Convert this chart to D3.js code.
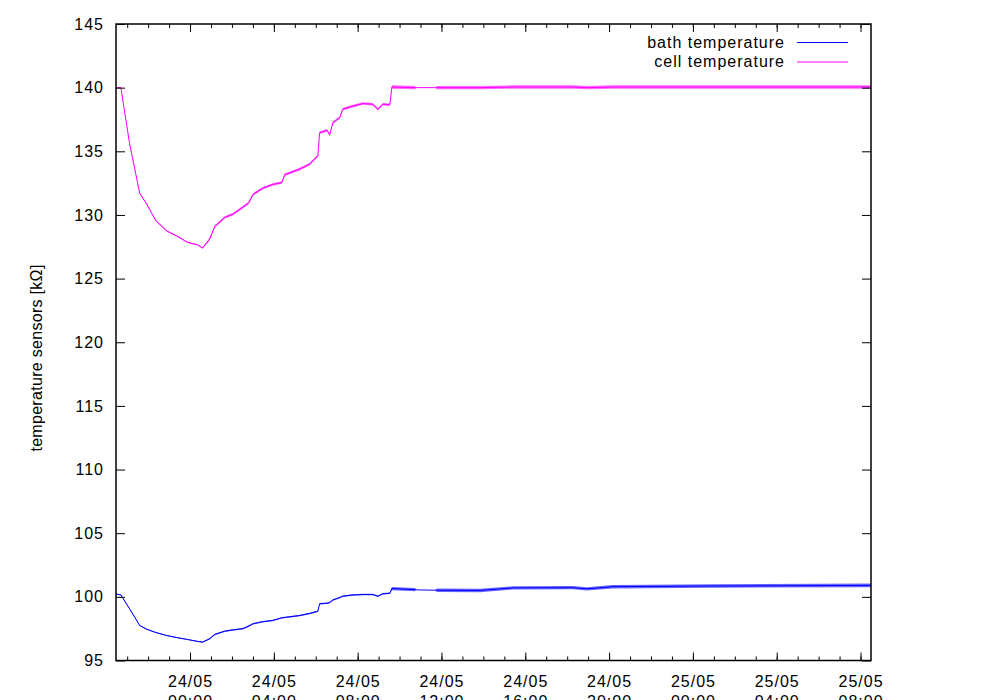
<!DOCTYPE html>
<html>
<head>
<meta charset="utf-8">
<script src="https://cdn.jsdelivr.net/npm/d3@7"></script>
<style>
  body { margin: 0; background: #fff; }
  svg { display: block; }
  text { font-family: "Liberation Sans", Arial, sans-serif; fill: #000; }
</style>
</head>
<body>
<svg></svg>
<script>
const width = 1000;
const height = 700;

// sample times (dd/mm HH:MM)
const times = [
  "23/05 20:28", "23/05 20:42", "23/05 21:07", "23/05 21:36", "23/05 21:56",
  "23/05 22:22", "23/05 22:53", "23/05 23:22", "23/05 23:53", "24/05 00:22",
  "24/05 00:36", "24/05 00:56", "24/05 01:11", "24/05 01:39", "24/05 02:02",
  "24/05 02:31", "24/05 02:48", "24/05 03:00", "24/05 03:28", "24/05 03:57",
  "24/05 04:23", "24/05 04:31", "24/05 05:14", "24/05 05:43", "24/05 06:06",
  "24/05 06:11", "24/05 06:32", "24/05 06:40", "24/05 06:49", "24/05 07:09",
  "24/05 07:17", "24/05 07:46", "24/05 08:15", "24/05 08:43", "24/05 08:58",
  "24/05 09:12", "24/05 09:32", "24/05 09:38", "24/05 10:44", "24/05 10:49",
  "24/05 11:41", "24/05 11:47", "24/05 13:50", "24/05 15:24", "24/05 18:16",
  "24/05 18:56", "24/05 20:11", "25/05 00:57", "25/05 08:30"
];

const bathValues = [
  100.22, 100.15, 99.06, 97.75, 97.45,
  97.2, 96.96, 96.8, 96.65, 96.5,
  96.44, 96.7, 97.05, 97.3, 97.4,
  97.5, 97.7, 97.88, 98.05, 98.15,
  98.35, 98.38, 98.53, 98.7, 98.87,
  99.45, 99.5, 99.55, 99.75, 99.95,
  100.05, 100.15, 100.18, 100.18, 100.05,
  100.24, 100.28, 100.65, 100.57, 100.55,
  100.52, 100.52, 100.5, 100.7, 100.72,
  100.63, 100.8, 100.85, 100.9
];

const cellValues = [
  140.0, 140.0, 135.6, 131.7, 130.85,
  129.55, 128.75, 128.35, 127.85, 127.65,
  127.4, 128.1, 129.1, 129.8, 130.05,
  130.6, 130.95, 131.6, 132.1, 132.4,
  132.55, 133.15, 133.6, 134.0, 134.65,
  136.45, 136.65, 136.3, 137.25, 137.65,
  138.3, 138.55, 138.75, 138.7, 138.3,
  138.7, 138.65, 140.05, 140.0, 140.0,
  140.0, 140.0, 140.0, 140.05, 140.05,
  140.0, 140.05, 140.05, 140.05
];

// half width of the scatter band seen around each trace
const bathNoise = [
  0.04, 0.04, 0.04, 0.04, 0.04,
  0.04, 0.04, 0.04, 0.04, 0.04,
  0.05, 0.06, 0.06, 0.06, 0.06,
  0.06, 0.06, 0.06, 0.06, 0.06,
  0.06, 0.06, 0.06, 0.06, 0.06,
  0.06, 0.06, 0.06, 0.06, 0.06,
  0.06, 0.06, 0.06, 0.06, 0.06,
  0.06, 0.06, 0.13, 0.13, 0,
  0, 0.13, 0.13, 0.13, 0.13,
  0.13, 0.14, 0.14, 0.14
];

const cellNoise = [
  0.05, 0.05, 0.05, 0.05, 0.05,
  0.05, 0.05, 0.05, 0.05, 0.05,
  0.06, 0.1, 0.1, 0.1, 0.1,
  0.1, 0.1, 0.1, 0.1, 0.1,
  0.1, 0.1, 0.1, 0.1, 0.1,
  0.1, 0.1, 0.1, 0.1, 0.1,
  0.1, 0.1, 0.1, 0.1, 0.1,
  0.1, 0.1, 0.13, 0.13, 0,
  0, 0.13, 0.13, 0.13, 0.13,
  0.13, 0.13, 0.13, 0.13
];

const yTicks = [95, 100, 105, 110, 115, 120, 125, 130, 135, 140, 145];
const seriesNames = ["bath temperature", "cell temperature"];
const seriesColors = ["#0000ff", "#ff00ff"];
const yTitle = "temperature sensors [k\u03A9]";

const parseTime = d3.timeParse("%d/%m %H:%M");
const plotLeft = 116, plotRight = 871, plotTop = 24, plotBottom = 660.5;

const svg = d3.select("svg").attr("width", width).attr("height", height);

const x = d3.scaleTime()
  .domain(d3.extent(times, parseTime))
  .range([plotLeft, plotRight]);

const y = d3.scaleLinear()
  .domain([95, 145])
  .range([plotBottom, plotTop]);

const series = [
  { name: seriesNames[0], color: seriesColors[0], values: bathValues, noise: bathNoise },
  { name: seriesNames[1], color: seriesColors[1], values: cellValues, noise: cellNoise },
].map((s) => ({
  ...s,
  pts: times.map((t, i) => ({ t: parseTime(t), v: s.values[i], n: s.noise[i] })),
}));

svg.append("clipPath").attr("id", "plot")
  .append("rect")
  .attr("x", plotLeft).attr("y", plotTop)
  .attr("width", plotRight - plotLeft).attr("height", plotBottom - plotTop);

const plot = svg.append("g").attr("clip-path", "url(#plot)");

const band = d3.area()
  .x((d) => x(d.t))
  .y0((d) => y(d.v - d.n))
  .y1((d) => y(d.v + d.n));

const line = d3.line()
  .x((d) => x(d.t))
  .y((d) => y(d.v));

series.forEach((s) => {
  plot.append("path")
    .datum(s.pts)
    .attr("d", band)
    .attr("fill", s.color)
    .attr("fill-opacity", 0.6);
  plot.append("path")
    .datum(s.pts)
    .attr("d", line)
    .attr("fill", "none")
    .attr("stroke", s.color)
    .attr("stroke-width", 1);
});

// gnuplot style ticks: inward, mirrored on all sides
function styleAxis(g) {
  g.select(".domain").remove();
  g.selectAll(".tick line").attr("stroke", "#000").attr("stroke-width", 1);
  g.attr("font-family", null).attr("font-size", null);
  g.selectAll("text")
    .style("font-size", "16px")
    .style("letter-spacing", "1px");
}

svg.append("g")
  .attr("transform", `translate(0,${plotBottom})`)
  .call(d3.axisBottom(x).ticks(d3.timeHour.every(1)).tickSize(-4).tickFormat(""))
  .call(styleAxis);

const xAxis = svg.append("g")
  .attr("transform", `translate(0,${plotBottom})`)
  .call(d3.axisBottom(x).ticks(d3.timeHour.every(4)).tickSize(-8).tickFormat(d3.timeFormat("%d/%m")))
  .call(styleAxis);

// two-line tick labels; the second line runs off the page as in the original
xAxis.selectAll(".tick text")
  .attr("y", 26.5)
  .attr("dy", null)
  .each(function (d) {
    const t = d3.select(this);
    t.text(null);
    t.append("tspan").attr("x", 0).text(d3.timeFormat("%d/%m")(d));
    t.append("tspan").attr("x", 0).attr("dy", 20).text(d3.timeFormat("%H:%M")(d));
  });

svg.append("g")
  .attr("transform", `translate(0,${plotTop})`)
  .call(d3.axisTop(x).ticks(d3.timeHour.every(1)).tickSize(-4).tickFormat(""))
  .call(styleAxis);

svg.append("g")
  .attr("transform", `translate(0,${plotTop})`)
  .call(d3.axisTop(x).ticks(d3.timeHour.every(4)).tickSize(-8).tickFormat(""))
  .call(styleAxis);

svg.append("g")
  .attr("transform", `translate(${plotLeft},0)`)
  .call(d3.axisLeft(y).tickValues(yTicks).tickSize(-9).tickPadding(12))
  .call(styleAxis);

svg.append("g")
  .attr("transform", `translate(${plotRight},0)`)
  .call(d3.axisRight(y).tickValues(yTicks).tickSize(-9).tickFormat(""))
  .call(styleAxis);

// frame
svg.append("rect")
  .attr("x", plotLeft).attr("y", plotTop)
  .attr("width", plotRight - plotLeft).attr("height", plotBottom - plotTop)
  .attr("fill", "none")
  .attr("stroke", "#000")
  .attr("stroke-width", 1.5);

svg.append("text")
  .attr("transform", "translate(42,358) rotate(-90)")
  .attr("text-anchor", "middle")
  .style("font-size", "16px")
  .style("letter-spacing", "0.3px")
  .text(yTitle);

// legend
const legend = svg.append("g");
series.forEach((s, i) => {
  const ly = 42.5 + i * 19.5;
  legend.append("text")
    .attr("x", 785)
    .attr("y", ly + 5)
    .attr("text-anchor", "end")
    .style("font-size", "16px")
    .style("letter-spacing", "1px")
    .text(s.name);
  legend.append("line")
    .attr("x1", 797).attr("x2", 848)
    .attr("y1", ly).attr("y2", ly)
    .attr("stroke", s.color)
    .attr("stroke-width", 1);
});
</script>
</body>
</html>
